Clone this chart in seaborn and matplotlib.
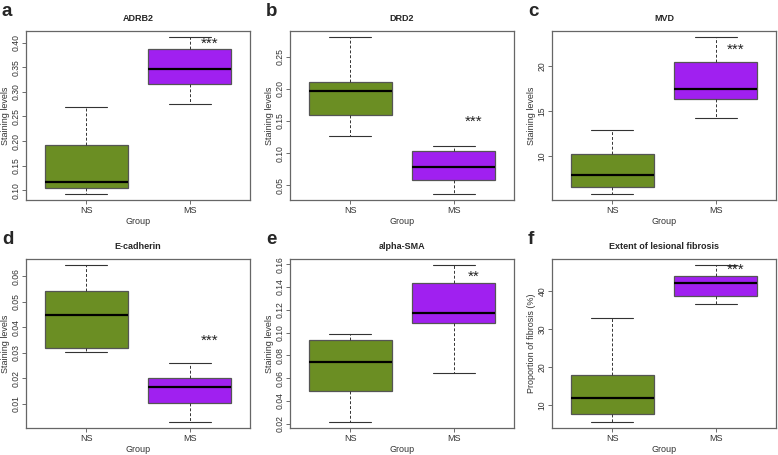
import numpy as np
import pandas as pd
import seaborn as sns
import matplotlib
matplotlib.use("Agg")
import matplotlib.pyplot as plt

sns.set_style("white")
plt.rcParams['font.family'] = ['Liberation Sans', 'DejaVu Sans']

groups = ["NS", "MS"]
colors = ["#6B8E23", "#A020F0"]

# five-number summaries [min, q1, median, q3, max]
adrb2_ns = [0.093, 0.104, 0.117, 0.193, 0.270]
adrb2_ms = [0.275, 0.315, 0.347, 0.388, 0.411]
drd2_ns = [0.126, 0.160, 0.197, 0.211, 0.280]
drd2_ms = [0.037, 0.058, 0.078, 0.104, 0.111]
mvd_ns = [5.8, 6.5, 7.9, 10.2, 12.95]
mvd_ms = [14.2, 16.4, 17.45, 20.48, 23.25]
ecad_ns = [0.0304, 0.0318, 0.0449, 0.0542, 0.0644]
ecad_ms = [0.0030, 0.0103, 0.0168, 0.0200, 0.0261]
asma_ns = [0.0218, 0.0491, 0.0744, 0.0938, 0.0990]
asma_ms = [0.0642, 0.1086, 0.1173, 0.1432, 0.1591]
fib_ns = [5.6, 7.6, 11.8, 17.8, 32.9]
fib_ms = [36.7, 38.8, 42.1, 43.9, 46.8]

titles = ["ADRB2", "DRD2", "MVD", "E-cadherin", "alpha-SMA", "Extent of lesional fibrosis"]
letters = ["a", "b", "c", "d", "e", "f"]
ylabels = ["Staining levels"] * 5 + ["Proportion of fibrosis (%)"]
sig = ["***", "***", "***", "***", "**", "***"]
sig_y = [0.398, 0.148, 21.8, 0.0347, 0.1487, 45.6]
yticks = [
    [0.10, 0.15, 0.20, 0.25, 0.30, 0.35, 0.40],
    [0.05, 0.10, 0.15, 0.20, 0.25],
    [10, 15, 20],
    [0.01, 0.02, 0.03, 0.04, 0.05, 0.06],
    [0.02, 0.04, 0.06, 0.08, 0.10, 0.12, 0.14, 0.16],
    [10, 20, 30, 40],
]
ytick_labels = [
    ["0.10", "0.15", "0.20", "0.25", "0.30", "0.35", "0.40"],
    ["0.05", "0.10", "0.15", "0.20", "0.25"],
    ["10", "15", "20"],
    ["0.01", "0.02", "0.03", "0.04", "0.05", "0.06"],
    ["0.02", "0.04", "0.06", "0.08", "0.10", "0.12", "0.14", "0.16"],
    ["10", "20", "30", "40"],
]
series = [(adrb2_ns, adrb2_ms), (drd2_ns, drd2_ms), (mvd_ns, mvd_ms),
          (ecad_ns, ecad_ms), (asma_ns, asma_ms), (fib_ns, fib_ms)]

W, H = 778, 455
fig = plt.figure(figsize=(W / 100, H / 100), dpi=100)

lefts = [26, 290, 552]
tops = [31, 259]
aw, ah = 224, 169
edge = "#555555"

for i, (ns, ms) in enumerate(series):
    r, c = divmod(i, 3)
    l, t = lefts[c], tops[r]
    ax = fig.add_axes([l / W, (H - t - ah) / H, aw / W, ah / H])
    df = pd.DataFrame({"Group": ["NS"] * len(ns) + ["MS"] * len(ms),
                       "value": list(ns) + list(ms)})
    sns.boxplot(data=df, x="Group", y="value", hue="Group", order=groups,
                hue_order=groups, palette=colors, saturation=1, legend=False,
                whis=(0, 100), width=0.8, ax=ax, linecolor=edge, linewidth=0.9,
                whiskerprops=dict(linestyle=(0, (3, 2)), color="#333333", linewidth=0.7),
                capprops=dict(color="#333333", linewidth=0.8),
                medianprops=dict(color="black", linewidth=1.6),
                boxprops=dict(edgecolor=edge, linewidth=0.9),
                showfliers=False)
    allv = np.array(list(ns) + list(ms))
    lo, hi = allv.min(), allv.max()
    rng = hi - lo
    ax.set_ylim(lo - 0.04 * rng, hi + 0.04 * rng)
    ax.set_xlim(-0.58, 1.58)
    ax.set_yticks(yticks[i])
    ax.set_yticklabels(ytick_labels[i], rotation=90, va="center", fontsize=6.2, color="#333333")
    ax.set_xticks([0, 1])
    ax.set_xticklabels(groups, fontsize=6.5, color="#333333")
    ax.tick_params(axis="x", length=3, width=0.6, color="#555555", pad=1.5, direction="out",
                   bottom=True)
    ax.tick_params(axis="y", length=3, width=0.6, color="#555555", pad=1, direction="out",
                   left=True)
    ax.set_xlabel("Group", fontsize=6.5, color="#333333", labelpad=1)
    ax.set_ylabel(ylabels[i], fontsize=6.5, color="#333333", labelpad=1)
    ax.set_title(titles[i], fontsize=6.5, fontweight="bold", pad=7)
    for s in ax.spines.values():
        s.set_color("#666666")
        s.set_linewidth(0.9)
    ax.text(1.19, sig_y[i], sig[i], ha="center", va="center", fontsize=11, color="#222222")
    fig.text((l - 24) / W, 1 - (t - 19) / H, letters[i], fontsize=13.5, fontweight="bold",
             ha="left", va="center")

fig.savefig("out.png", dpi=100)
